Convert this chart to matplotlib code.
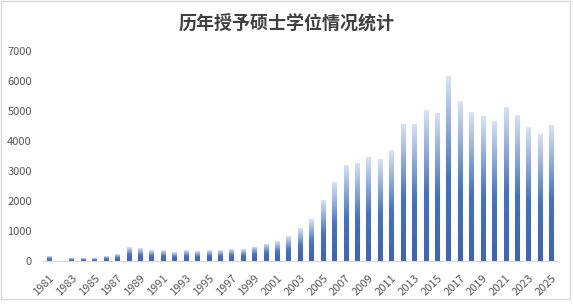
import matplotlib
matplotlib.use("Agg")
import matplotlib.pyplot as plt
from matplotlib.colors import LinearSegmentedColormap
from matplotlib.patches import Rectangle
import numpy as np

plt.rcParams['font.family'] = ['Noto Sans CJK SC', 'DejaVu Sans']

years = list(range(1981, 2026))
degrees = [150, 0, 70, 80, 90, 150, 215, 450, 420, 350,
           350, 285, 350, 320, 350, 350, 400, 400, 470, 570,
           650, 820, 1080, 1380, 2020, 2620, 3190, 3250, 3450, 3380,
           3680, 4580, 4580, 5020, 4920, 6180, 5320, 4950, 4820, 4680,
           5120, 4850, 4450, 4220, 4520]
year_labels = [str(y) if y % 2 == 1 else "" for y in years]

# top of bar is light, bottom is the solid blue
grad = LinearSegmentedColormap.from_list(
    "bar", [(0.0, (0.24, 0.39, 0.71)), (0.45, (0.267, 0.447, 0.769)),
            (1.0, (0.85, 0.89, 0.96))])

fig = plt.figure(figsize=(5.73, 3.08), dpi=100)
ax = fig.add_axes([0.075, 0.154, 0.897, 0.68])

x = np.arange(len(years))
bars = ax.bar(x, degrees, width=0.36, color="none", edgecolor="none")
ramp = np.linspace(0, 1, 256).reshape(-1, 1)
for b in bars:
    h = b.get_height()
    if h <= 0:
        continue
    x0 = b.get_x()
    im = ax.imshow(ramp, cmap=grad, aspect="auto", origin="upper",
                   extent=(x0, x0 + b.get_width(), 0, h), zorder=2)
    im.set_clip_path(b)
    # imshow shows light at top: origin upper puts ramp[0]=0 at top -> flip
    im.set_data(ramp[::-1])

ax.set_xlim(-0.5, len(years) - 0.5)
ax.set_ylim(0, 7000)
ax.set_yticks(range(0, 7001, 1000))
ax.set_xticks(x)
ax.set_xticklabels(year_labels, rotation=45, ha="right", rotation_mode="anchor")
ax.tick_params(axis="both", length=0, labelsize=8, labelcolor="#595959")
ax.tick_params(axis="x", pad=9)
ax.tick_params(axis="y", pad=8)
for s in ["top", "right", "left"]:
    ax.spines[s].set_visible(False)
ax.spines["bottom"].set_color("#d9d9d9")
ax.spines["bottom"].set_zorder(3)

fig.text(0.5, 0.925, "历年授予硕士学位情况统计", ha="center", va="center",
         fontsize=13, fontweight="bold", color="#404040")

fig.patches.append(Rectangle((0.001, 0.03), 0.993, 0.968, transform=fig.transFigure,
                             fill=False, edgecolor="#d9d9d9", linewidth=1))

fig.savefig("out.png", dpi=100)
